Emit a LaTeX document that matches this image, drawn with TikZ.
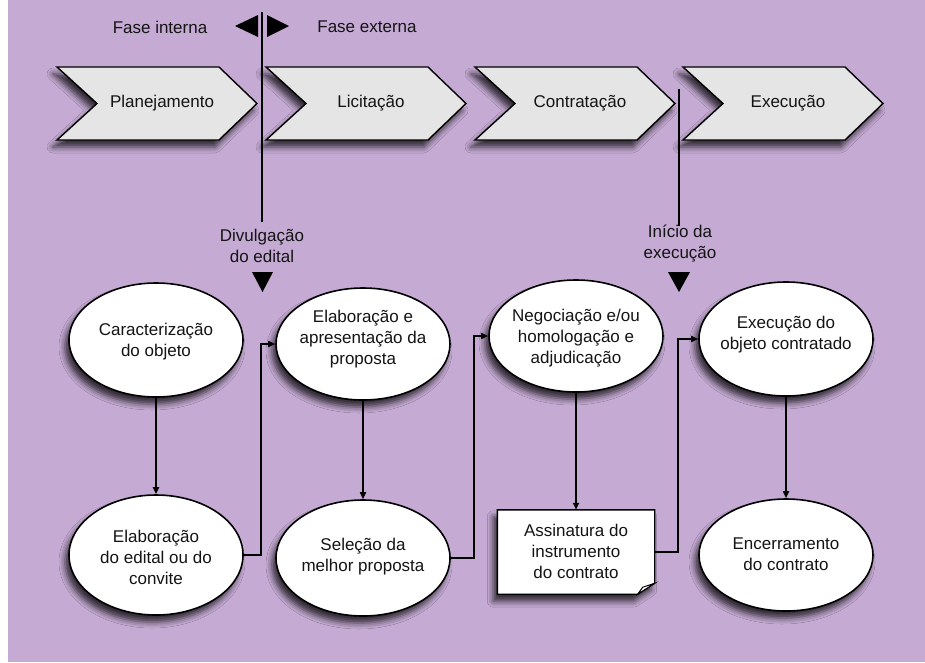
\documentclass[tikz,border=0pt]{standalone}
\usepackage{fontspec}
\setmainfont{Liberation Sans}
\usetikzlibrary{arrows.meta,shapes.geometric,shadows.blur}
\definecolor{bg}{RGB}{197,170,211}
\definecolor{chevfill}{RGB}{229,229,229}
\definecolor{ink}{RGB}{20,20,20}
\begin{document}
\begin{tikzpicture}[x=1pt,y=-1pt,
  font=\fontsize{17}{21}\selectfont,
  txt/.style={text=ink, align=center, inner sep=0},
  shad/.style={blur shadow={shadow xshift=-4pt, shadow yshift=-7pt, shadow blur radius=6pt, shadow opacity=75}},
  oval/.style={ellipse, draw=black, line width=1.6pt, fill=white, minimum width=174pt, minimum height=114pt, inner sep=0, shad},
  chev/.style={draw=black, line width=1.4pt, fill=chevfill, line join=miter, shad},
  conn/.style={draw=black, line width=1.6pt, -{Triangle[length=7pt,width=6pt]}},
  marker/.style={fill=black}
]
\useasboundingbox (0,0) rectangle (925,662);
\fill[white] (0,0) rectangle (925,662);
\fill[bg] (8,0) rectangle (925,662);

% chevrons
\foreach \L/\t/\n in {57/Planejamento/c1, 266/Licitação/c2, 475/Contratação/c3, 683/Execução/c4} {
  \draw[chev] (\L,67) -- (\L+162,67) -- (\L+200,103.5) -- (\L+162,140) -- (\L,140) -- (\L+40,103.5) -- cycle;
  \node[txt] (\n) at (\L+105,103.5) {\t};
}

% phase separators
\coordinate (v1a) at (262,12);
\coordinate (v1b) at (262,222);
\draw[line width=1.4pt] (v1a) -- (v1b);
\coordinate (v2a) at (679,89);
\coordinate (v2b) at (679,226);
\draw[line width=1.4pt] (v2a) -- (v2b);

\fill[marker] (258,15) -- (258,37) -- (235,26) -- cycle;
\fill[marker] (267,15) -- (267,37) -- (289,26) -- cycle;
\node[txt] (fi) at (160,27) {Fase interna};
\node[txt] (fe) at (367,27) {Fase externa};

\node[txt] (div) at (262,246) {Divulgação\\do edital};
\node[txt] (ini) at (680,244) {Início da\\execução};
\fill[marker] (252,272) -- (273,272) -- (262.5,292) -- cycle;
\fill[marker] (668,272) -- (690,272) -- (679,292) -- cycle;

% top row
\node[oval] (e1) at (156,340) {};
\node[txt] (e1t) at (156,342) {Caracterização\\do objeto};
\node[oval, minimum height=112pt] (e2) at (363,344) {};
\node[txt] (e2t) at (363,339) {Elaboração e\\apresentação da\\proposta};
\node[oval, minimum height=112pt] (e3) at (576,336) {};
\node[txt] (e3t) at (576,338) {Negociação e/ou\\homologação e\\adjudicação};
\node[oval] (e4) at (786,339) {};
\node[txt] (e4t) at (786,335) {Execução do\\objeto contratado};

% bottom row
\node[oval, minimum height=120pt] (b1) at (156,555) {};
\node[txt] (b1t) at (156,557) {Elaboração\\do edital ou do\\convite};
\node[oval, minimum height=116pt] (b2) at (363,558) {};
\node[txt] (b2t) at (363,557) {Seleção da\\melhor proposta};
\node[minimum width=157pt, minimum height=84pt, inner sep=0] (r) at (576,552) {};
\path[draw=black, line width=1.4pt, fill=white, shad]
  (r.north west) -- (r.north east) -- ([yshift=11pt]r.south east)
  -- ([xshift=-17pt]r.south east) -- (r.south west) -- cycle;
\path[draw=black, line width=1pt, fill=white]
  ([xshift=-17pt]r.south east) -- ([xshift=-12pt,yshift=7pt]r.south east)
  -- ([yshift=11pt]r.south east) -- cycle;
\node[txt] (rt) at (576,551) {Assinatura do\\instrumento\\do contrato};
\node[oval, minimum height=112pt] (b4) at (786,555) {};
\node[txt] (b4t) at (786,554) {Encerramento\\do contrato};

% connectors
\draw[conn, line width=2.4pt] (e1) -- (b1);
\draw[conn] (e2) -- (b2);
\draw[conn] (e3) -- (r);
\draw[conn] (e4) -- (b4);
\draw[conn] (b1.east) -- ++(17,0) |- (e2.west);
\draw[conn] (b2.east) -- ++(23,0) |- (e3.west);
\draw[conn] (r.east) -- ++(23,0) |- (e4.west);
\end{tikzpicture}
\end{document}
